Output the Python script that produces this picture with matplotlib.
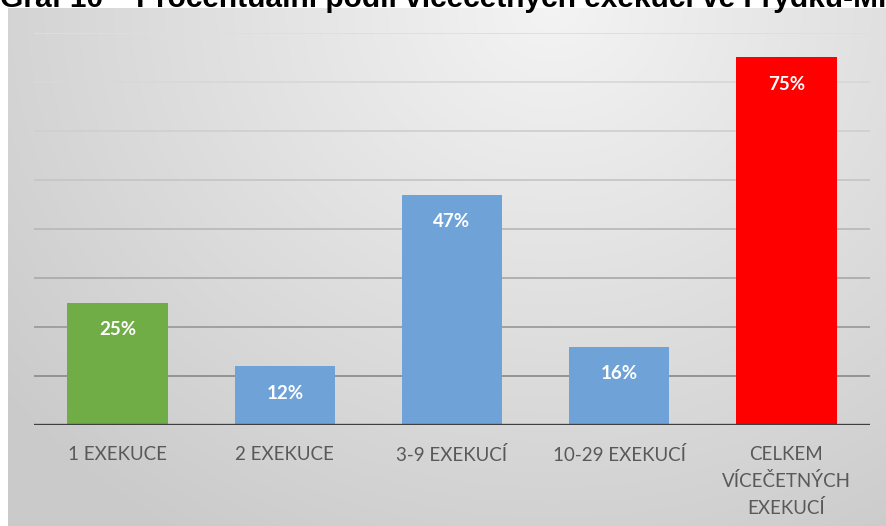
import numpy as np
import matplotlib.pyplot as plt

categories = ['1 EXEKUCE', '2 EXEKUCE', '3-9 EXEKUCÍ', '10-29 EXEKUCÍ',
              'CELKEM\nVÍCEČETNÝCH\nEXEKUCÍ']
values = [0.25, 0.12, 0.47, 0.16, 0.75]
colors = ['#70AD47', '#6FA3D8', '#6FA3D8', '#6FA3D8', '#FF0000']
title = 'Graf 10 – Procentuální podíl vícečetných exekucí ve Frýdku-Místku'

fig = plt.figure(figsize=(8.87, 5.26), dpi=100)
fig.patch.set_facecolor('white')

# gradient background of the chart area
bg = fig.add_axes([8 / 887, 0, 1 - 8 / 887, 518 / 526])
xx, yy = np.meshgrid(np.linspace(0, 1, 400), np.linspace(0, 1, 300))
r = np.sqrt(((xx - 0.62) / 0.8) ** 2 + (yy / 1.2) ** 2)
g = 0.955 - 0.16 * np.clip(r, 0, 1)
bg.imshow(np.dstack([g, g, g]), aspect='auto', extent=[0, 1, 1, 0])
bg.axis('off')

ax = fig.add_axes([34 / 887, 1 - 425 / 526, 836 / 887, 392 / 526])
ax.set_facecolor('none')
x = np.arange(len(categories))
bars = ax.bar(x, values, width=0.6, color=colors, zorder=3)

grid_cols = ['#8e8e8e', '#9c9c9c', '#acacac', '#bababa', '#c6c6c6', '#d0d0d0', '#d8d8d8', '#dedede']
for i, c in zip(range(1, 9), grid_cols):
    ax.axhline(i / 10, color=c, lw=1.3, zorder=1)
ax.axhline(0, color='#3f3f3f', lw=2.4, zorder=4)

for b, v in zip(bars, values):
    ax.annotate(f'{v:.0%}', (b.get_x() + b.get_width() / 2, v),
                xytext=(0, -27), textcoords='offset pixels',
                ha='center', va='center', color='white', fontsize=13.5,
                fontweight='bold', family='Lato', zorder=5)

ax.set_xlim(-0.5, 4.5)
ax.set_ylim(0, 0.8)
ax.set_xticks(x)
ax.set_xticklabels(categories, family='Lato', fontsize=13.5,
                   color='#595959', linespacing=1.6)
ax.tick_params(axis='x', length=0, pad=15)
ax.set_yticks([])
for s in ax.spines.values():
    s.set_visible(False)

fig.text(0.0, 1 - 7 / 526, title, ha='left', va='baseline',
         family='Liberation Sans', fontweight='bold', fontsize=21.5, color='black')

fig.savefig('out.png', dpi=100)
